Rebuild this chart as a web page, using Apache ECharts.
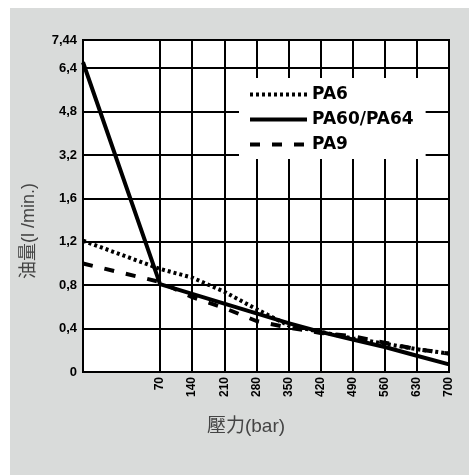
<!DOCTYPE html>
<html><head><meta charset="utf-8">
<script src="https://cdn.jsdelivr.net/npm/echarts@6/dist/echarts.min.js"></script>
<style>
html,body{margin:0;padding:0;background:#fff;}
#bg{position:absolute;left:10px;top:8px;width:459px;height:467px;background:#d9dbda;}
#c{position:absolute;left:0;top:0;width:469px;height:475px;}
</style>
</head><body><div id="bg"></div><div id="c"></div>
<script>
// ---- data ----
var pressureBar = [0, 70, 140, 210, 280, 350, 420, 490, 560, 630, 700];
var flowPA6     = [1.21, 0.95, 0.87, 0.74, 0.58, 0.43, 0.37, 0.31, 0.26, 0.21, 0.17];
var flowPA60    = [6.62, 0.81, 0.72, 0.63, 0.54, 0.45, 0.37, 0.30, 0.23, 0.15, 0.07];
var flowPA9     = [1.00, 0.83, 0.69, 0.59, 0.47, 0.41, 0.36, 0.33, 0.27, 0.21, 0.17];
var seriesNames = ['PA6', 'PA60/PA64', 'PA9'];
var xTickValues = [70, 140, 210, 280, 350, 420, 490, 560, 630, 700];
var xTickLabels = ['70','140','210','280','350','420','490','560','630','700'];
var yTickValues = [0, 0.4, 0.8, 1.2, 1.6, 3.2, 4.8, 6.4, 7.44];
var yTickLabels = ['0','0,4','0,8','1,2','1,6','3,2','4,8','6,4','7,44'];

// ---- broken (piecewise) scales as drawn in the original ----
var X_FIRST_SEG = 2.4; // 0..70 bar occupies 2.4 tick steps
function fx(b) {
  if (b <= 70) return b / 70 * X_FIRST_SEG;
  return X_FIRST_SEG + (b - 70) / 70;
}
var yPos = yTickValues.map(function (v, i) {
  if (i < yTickValues.length - 1) return i;
  var prevStep = yTickValues[i - 1] - yTickValues[i - 2];
  return (i - 1) + (v - yTickValues[i - 1]) / prevStep;
});
function fy(v) {
  for (var i = 0; i < yTickValues.length - 1; i++) {
    var a = yTickValues[i], b = yTickValues[i + 1];
    if (v <= b || i === yTickValues.length - 2) {
      return yPos[i] + (v - a) / (b - a) * (yPos[i + 1] - yPos[i]);
    }
  }
}
var xPos = xTickValues.map(fx);
function pairs(vals) { return pressureBar.map(function (b, i) { return [fx(b), fy(vals[i])]; }); }
function lookup(pos, positions, labels) {
  for (var i = 0; i < positions.length; i++) if (Math.abs(positions[i] - pos) < 1e-6) return labels[i];
  return '';
}

var chart = echarts.init(document.getElementById('c'), null, {renderer: 'canvas'});
var labelFont = '"Liberation Sans", Arial, sans-serif';
var titleFont = '"Liberation Sans", Arial, "Noto Sans CJK TC", sans-serif';
chart.setOption({
  animation: false,
  backgroundColor: 'transparent',
  grid: {left: 83, right: 20, top: 40, bottom: 103, show: true, backgroundColor: '#fff',
         borderColor: '#000', borderWidth: 2},
  legend: {
    orient: 'vertical', left: 239, top: 78, backgroundColor: '#fff',
    padding: [8, 12, 6, 9], itemWidth: 57, itemHeight: 14, itemGap: 8,
    itemStyle: {opacity: 0},
    lineStyle: {width: 4},
    textStyle: {fontFamily: '"DejaVu Sans", sans-serif', fontWeight: 'bold', fontSize: 17, color: '#000'},
    data: seriesNames
  },
  xAxis: {
    type: 'value', min: 0, max: xPos[xPos.length - 1],
    name: '壓力(bar)', nameLocation: 'middle', nameGap: 45,
    nameTextStyle: {fontFamily: titleFont, fontSize: 19, color: '#444', padding: [0, 40, 0, 0]},
    axisLine: {show: true, lineStyle: {color: '#000', width: 2}},
    axisTick: {show: false, customValues: xPos},
    axisLabel: {customValues: xPos, rotate: 90, margin: 5,
      fontFamily: labelFont, fontWeight: 'bold', fontSize: 12, color: '#000',
      formatter: function (v) { return lookup(v, xPos, xTickLabels); }},
    splitLine: {show: true, lineStyle: {color: '#000', width: 2}}
  },
  yAxis: {
    type: 'value', min: 0, max: yPos[yPos.length - 1],
    name: '油量(l /min.)', nameLocation: 'middle', nameGap: 45, nameRotate: 90,
    nameTextStyle: {fontFamily: titleFont, fontSize: 18, color: '#444', padding: [0, 50, 0, 0]},
    axisLine: {show: true, lineStyle: {color: '#000', width: 2}},
    axisTick: {show: false, customValues: yPos},
    axisLabel: {customValues: yPos, margin: 6,
      fontFamily: labelFont, fontWeight: 'bold', fontSize: 13, color: '#000',
      formatter: function (v) { return lookup(v, yPos, yTickLabels); }},
    splitLine: {show: true, lineStyle: {color: '#000', width: 2}}
  },
  series: [
    {name: seriesNames[0], type: 'line', symbol: 'none', data: pairs(flowPA6),
     lineStyle: {color: '#000', width: 4, type: [3, 3]}, itemStyle: {color: '#000'}},
    {name: seriesNames[1], type: 'line', symbol: 'none', data: pairs(flowPA60),
     lineStyle: {color: '#000', width: 4, type: 'solid'}, itemStyle: {color: '#000'}},
    {name: seriesNames[2], type: 'line', symbol: 'none', data: pairs(flowPA9),
     lineStyle: {color: '#000', width: 4, type: [10, 12]}, itemStyle: {color: '#000'}}
  ]
});
</script>
</body></html>
